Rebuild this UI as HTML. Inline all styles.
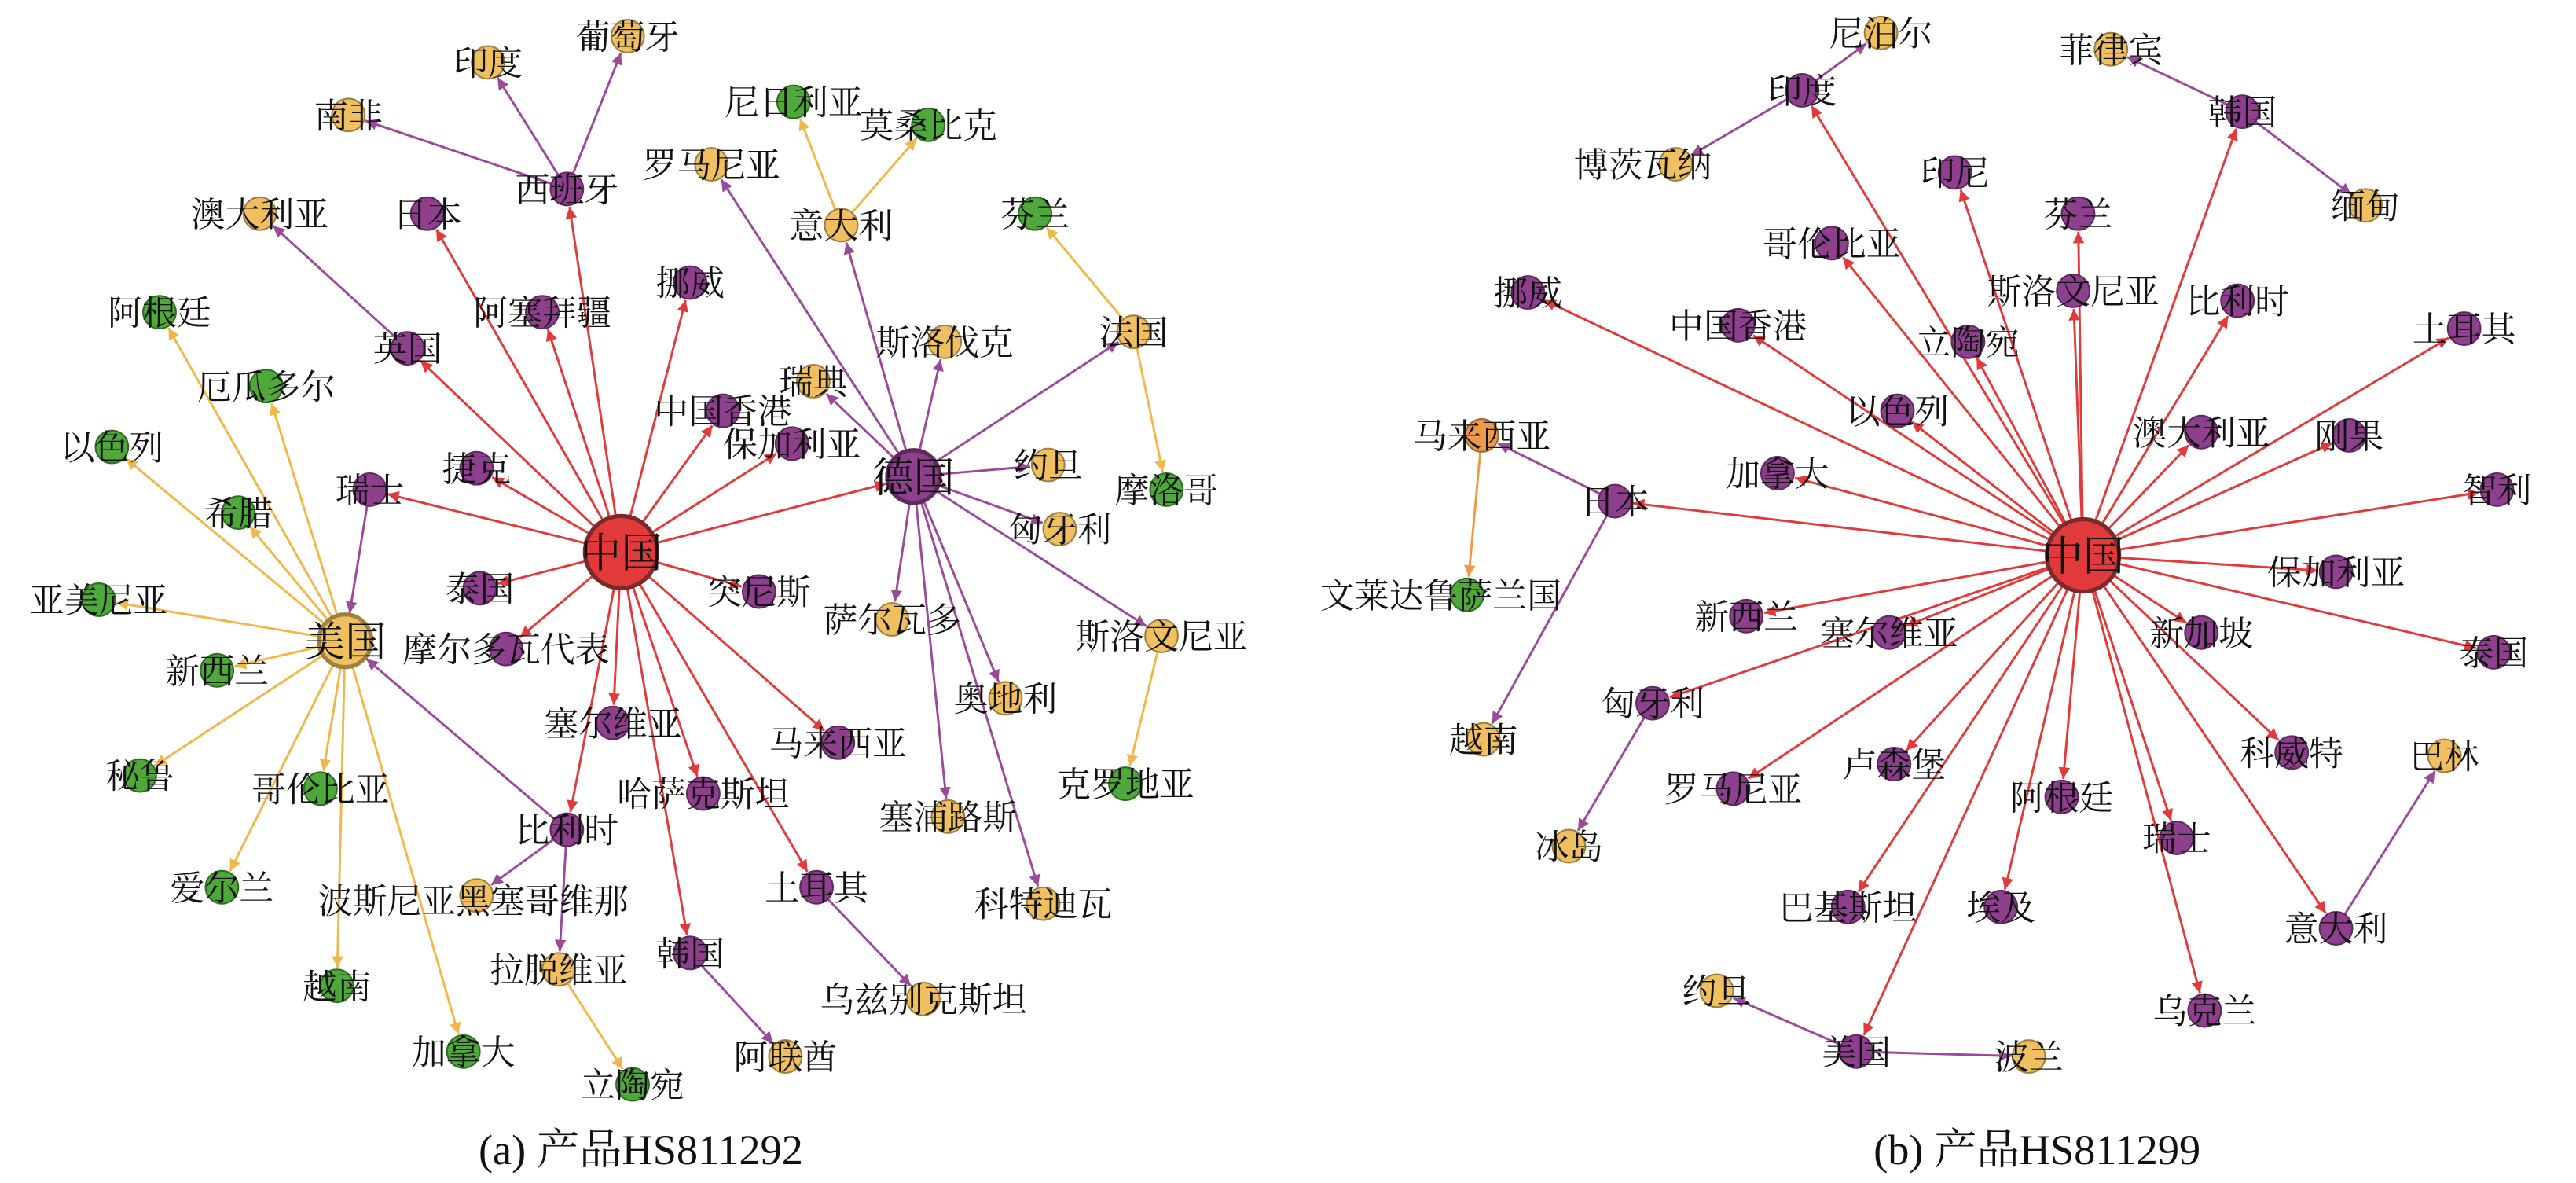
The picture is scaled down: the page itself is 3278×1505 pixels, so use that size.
<!DOCTYPE html>
<html><head><meta charset="utf-8">
<style>
html,body{margin:0;padding:0;background:#fff;}
svg{display:block;}
text{font-family:"Liberation Serif","Noto Serif CJK SC",serif;fill:#111;}
</style></head>
<body>
<svg id="s" width="3278" height="1505" viewBox="0 0 1568 720" xmlns="http://www.w3.org/2000/svg">
<defs>
<marker id="mr" viewBox="0 0 10 10" refX="10" refY="5" markerWidth="7" markerHeight="7" markerUnits="userSpaceOnUse" orient="auto"><path d="M0,0L10,5L0,10z" fill="#e23a3a"/></marker>
<marker id="mp" viewBox="0 0 10 10" refX="10" refY="5" markerWidth="7" markerHeight="7" markerUnits="userSpaceOnUse" orient="auto"><path d="M0,0L10,5L0,10z" fill="#9b4a9b"/></marker>
<marker id="my" viewBox="0 0 10 10" refX="10" refY="5" markerWidth="7" markerHeight="7" markerUnits="userSpaceOnUse" orient="auto"><path d="M0,0L10,5L0,10z" fill="#f0b84a"/></marker>
<marker id="mo" viewBox="0 0 10 10" refX="10" refY="5" markerWidth="7" markerHeight="7" markerUnits="userSpaceOnUse" orient="auto"><path d="M0,0L10,5L0,10z" fill="#ee9a4a"/></marker>
</defs>
<g id="e"></g><g id="n"></g><g id="t"></g>
<text x="390" y="700" font-size="26" text-anchor="middle" dominant-baseline="central">(a) 产品HS811292</text>
<text x="1240" y="700" font-size="26" text-anchor="middle" dominant-baseline="central">(b) 产品HS811299</text>
</svg>
<script>
var C={r:["#e23a3a","#7a2a2a"],p:["#8e3f8e","#5e2a5e"],y:["#f0c060","#a08040"],g:["#4fa83a","#2e6e22"],o:["#ee9a4a","#a06a30"]};
var N={};
function nd(id,x,y,c,lab,r){N[id]={x:x,y:y,c:c,l:lab||id,r:r||10};}
nd("中国",378,336,"r",null,22);nd("德国",556,290,"p",null,16);nd("美国",210,390,"y",null,16);
[["西班牙",345,115],["日本",260,130],["阿塞拜疆",330,190],["挪威",420,172],["英国",248,212],["中国香港",440,250],["保加利亚",482,270],["捷克",290,285],["瑞士",225,298],["泰国",292,358],["摩尔多瓦代表",308,395],["突尼斯",462,360],["塞尔维亚",373,440],["马来西亚",510,452],["哈萨克斯坦",428,483],["比利时",345,505],["韩国",420,580],["土耳其",497,540]].forEach(function(a){nd(a[0],a[1],a[2],"p");});
[["罗马尼亚",433,100],["意大利",512,137],["斯洛伐克",575,208],["瑞典",495,232],["法国",690,202],["约旦",638,283],["匈牙利",645,322],["萨尔瓦多",543,377],["斯洛文尼亚",707,387],["奥地利",612,425],["塞浦路斯",577,497],["科特迪瓦",635,550],["印度",297,38],["葡萄牙",382,22],["南非",212,70],["澳大利亚",158,130],["黑塞哥维那",290,545,"波斯尼亚黑塞哥维那"],["拉脱维亚",340,590],["阿联酋",478,643],["乌兹别克斯坦",562,608]].forEach(function(a){nd(a[0],a[1],a[2],"y",a[3]);});
[["尼日利亚",483,62],["莫桑比克",565,76],["芬兰",630,130],["摩洛哥",710,298],["克罗地亚",685,477],["立陶宛",385,660],["阿根廷",97,190],["厄瓜多尔",162,235],["以色列",68,272],["希腊",145,312],["亚美尼亚",60,365],["新西兰",132,408],["秘鲁",85,472],["哥伦比亚",195,480],["爱尔兰",135,540],["越南",205,600],["加拿大",282,640]].forEach(function(a){nd(a[0],a[1],a[2],"g");});
var label={"黑塞哥维那":[288,548]};
var E=[];
["西班牙","日本","阿塞拜疆","挪威","英国","中国香港","保加利亚","捷克","瑞士","泰国","摩尔多瓦代表","突尼斯","塞尔维亚","马来西亚","哈萨克斯坦","比利时","韩国","土耳其","德国"].forEach(function(t){E.push(["中国",t,"r"]);});
["罗马尼亚","意大利","斯洛伐克","瑞典","法国","约旦","匈牙利","萨尔瓦多","斯洛文尼亚","奥地利","塞浦路斯","科特迪瓦"].forEach(function(t){E.push(["德国",t,"p"]);});
E.push(["意大利","尼日利亚","y"],["意大利","莫桑比克","y"],["法国","芬兰","y"],["法国","摩洛哥","y"],["斯洛文尼亚","克罗地亚","y"],["西班牙","印度","p"],["西班牙","葡萄牙","p"],["西班牙","南非","p"],["英国","澳大利亚","p"],["瑞士","美国","p"],["比利时","美国","p"],["比利时","黑塞哥维那","p"],["比利时","拉脱维亚","p"],["拉脱维亚","立陶宛","y"],["韩国","阿联酋","p"],["土耳其","乌兹别克斯坦","p"]);
["阿根廷","厄瓜多尔","以色列","希腊","亚美尼亚","新西兰","秘鲁","哥伦比亚","爱尔兰","越南","加拿大"].forEach(function(t){E.push(["美国",t,"y"]);});
nd("R中国",1268,338,"r","中国",22);
var RP=[["R印度",1097,55,"印度"],["R韩国",1365,68,"韩国"],["R印尼",1190,105,"印尼"],["R芬兰",1265,130,"芬兰"],["R哥伦比亚",1115,148,"哥伦比亚"],["R斯洛文尼亚",1262,177,"斯洛文尼亚"],["R比利时",1362,183,"比利时"],["R挪威",930,178,"挪威"],["R中国香港",1058,198,"中国香港"],["R立陶宛",1198,208,"立陶宛"],["R土耳其",1500,200,"土耳其"],["R以色列",1155,250,"以色列"],["R澳大利亚",1340,263,"澳大利亚"],["R刚果",1430,265,"刚果"],["R加拿大",1082,288,"加拿大"],["R日本",983,305,"日本"],["R智利",1520,298,"智利"],["R保加利亚",1422,348,"保加利亚"],["R新西兰",1063,375,"新西兰"],["R塞尔维亚",1150,385,"塞尔维亚"],["R泰国",1518,397,"泰国"],["R新加坡",1340,385,"新加坡"],["R匈牙利",1006,428,"匈牙利"],["R科威特",1395,458,"科威特"],["R卢森堡",1153,465,"卢森堡"],["R罗马尼亚",1055,480,"罗马尼亚"],["R阿根廷",1255,485,"阿根廷"],["R瑞士",1325,510,"瑞士"],["R巴基斯坦",1125,552,"巴基斯坦"],["R埃及",1218,552,"埃及"],["R意大利",1422,565,"意大利"],["R乌克兰",1342,615,"乌克兰"],["R美国",1130,640,"美国"]];
RP.forEach(function(a){nd(a[0],a[1],a[2],"p",a[3]);E.push(["R中国",a[0],"r"]);});
[["R尼泊尔",1145,20,"尼泊尔"],["R菲律宾",1285,30,"菲律宾"],["R博茨瓦纳",1020,100,"博茨瓦纳"],["R缅甸",1440,125,"缅甸"],["R越南",903,450,"越南"],["R冰岛",955,515,"冰岛"],["R巴林",1488,460,"巴林"],["R约旦",1045,603,"约旦"],["R波兰",1235,643,"波兰"]].forEach(function(a){nd(a[0],a[1],a[2],"y",a[3]);});
nd("R马来西亚",902,265,"o","马来西亚");nd("R文莱",893,362,"g","文莱达鲁萨兰国");
label["R文莱"]=[877,362];label["R博茨瓦纳"]=[1000,100];label["R马来西亚"]=[902,265];
E.push(["R印度","R尼泊尔","p"],["R印度","R博茨瓦纳","p"],["R韩国","R菲律宾","p"],["R韩国","R缅甸","p"],["R日本","R马来西亚","p"],["R日本","R越南","p"],["R马来西亚","R文莱","o"],["R匈牙利","R冰岛","p"],["R意大利","R巴林","p"],["R美国","R约旦","p"],["R美国","R波兰","p"]);
var col={r:"#e23a3a",p:"#9b4a9b",y:"#f0b84a",o:"#ee9a4a",g:"#4fa83a"};
var NS="http://www.w3.org/2000/svg";
function el(t,a,p){var e=document.createElementNS(NS,t);for(var k in a)e.setAttribute(k,a[k]);document.getElementById(p).appendChild(e);return e;}
E.forEach(function(e){var a=N[e[0]],b=N[e[1]];var dx=b.x-a.x,dy=b.y-a.y,d=Math.sqrt(dx*dx+dy*dy);
var x1=a.x+dx/d*a.r,y1=a.y+dy/d*a.r,x2=b.x-dx/d*(b.r+1),y2=b.y-dy/d*(b.r+1);
el("line",{x1:x1,y1:y1,x2:x2,y2:y2,stroke:col[e[2]],"stroke-width":1.4,"marker-end":"url(#m"+e[2]+")"},"e");});
for(var k in N){var n=N[k];el("circle",{cx:n.x,cy:n.y,r:n.r,fill:C[n.c][0],stroke:C[n.c][1],"stroke-width":n.r>15?2.5:1},"n");
var p=label[k]||[n.x,n.y];var t=el("text",{x:p[0],y:p[1]+1,"font-size":n.r>15?25:21,"text-anchor":"middle","dominant-baseline":"central"},"t");t.textContent=n.l;}
</script>
</body></html>
